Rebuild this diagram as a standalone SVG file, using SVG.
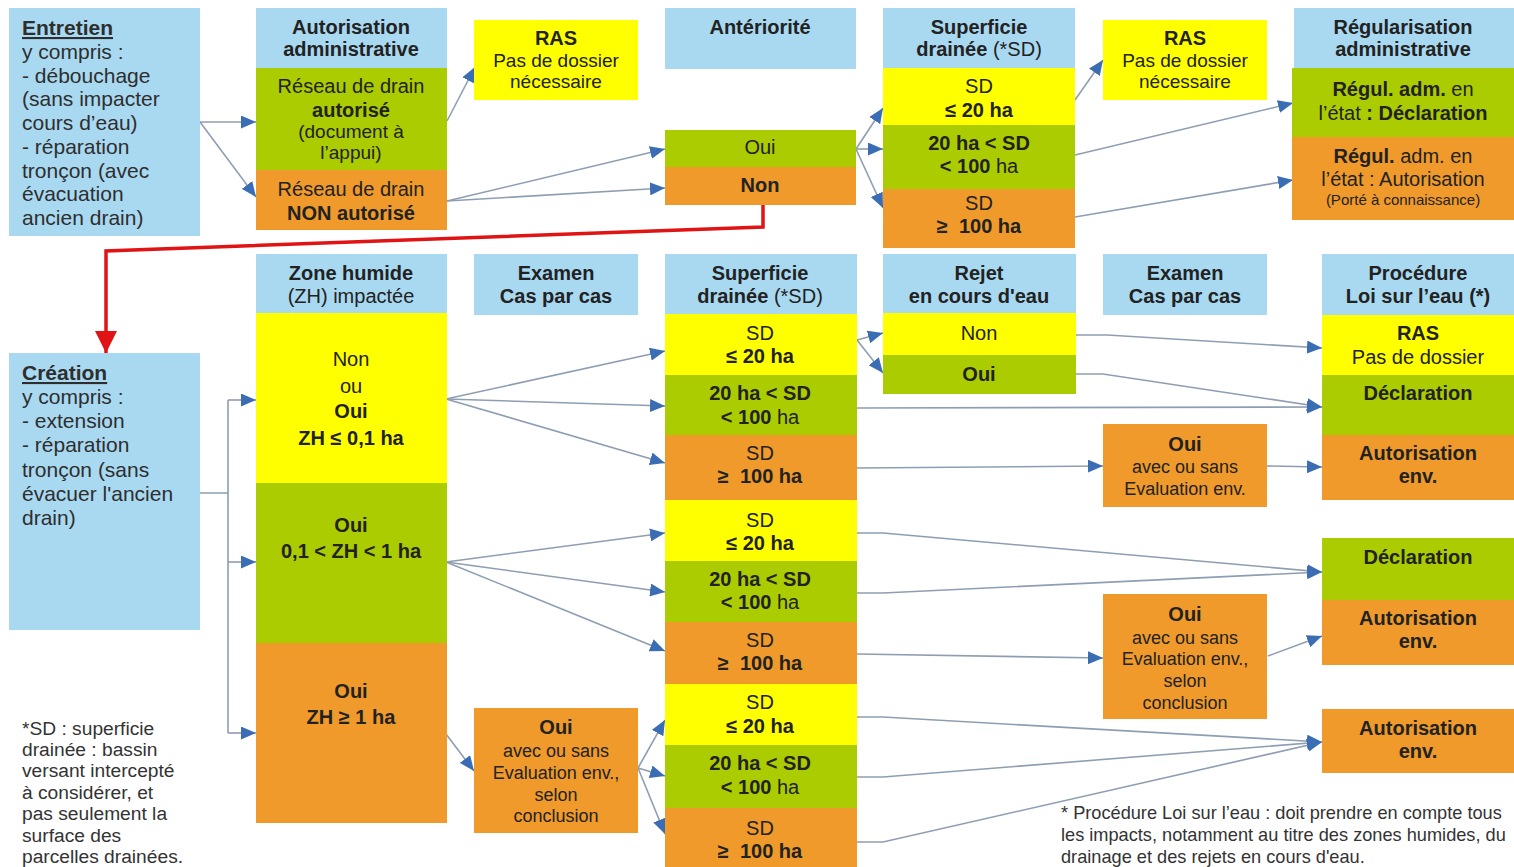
<svg xmlns="http://www.w3.org/2000/svg" width="1514" height="867" viewBox="0 0 1514 867">
<style>
.lb{fill:#a9d9f1}.y{fill:#ffff00}.g{fill:#aacc00}.o{fill:#ef9a2b}
text{font-family:"Liberation Sans",Arial,sans-serif;fill:#222;font-size:20px;text-anchor:middle}
.l{text-anchor:start;fill:#2e2e2e;font-size:21px}
.b{font-weight:bold}
.s19{font-size:19px}.s18{font-size:18px}.s15{font-size:15px}
.fn{text-anchor:start;fill:#333;font-size:19.2px}
.fr{font-size:18.2px}
.c{stroke:#8e9eb2;stroke-width:1.6;fill:none;marker-end:url(#ah)}
.cn{stroke:#8e9eb2;stroke-width:1.6;fill:none}
</style>
<defs>
<marker id="ah" markerUnits="userSpaceOnUse" markerWidth="15" markerHeight="13" refX="15" refY="6.5" orient="auto"><path d="M0,0 L15,6.5 L0,13 z" fill="#3a6db4"/></marker>
<marker id="rh" markerUnits="userSpaceOnUse" markerWidth="24" markerHeight="22" refX="22" refY="11" orient="auto"><path d="M0,0 L22,11 L0,22 z" fill="#e01414"/></marker>
</defs>
<rect width="1514" height="867" fill="#ffffff"/>

<g id="connectors">
<path class="c" d="M200,122 L256,122"/>
<path class="c" d="M200,122 L256,197"/>
<path class="c" d="M447,121 L475,67"/>
<path class="c" d="M447,201 L665,149"/>
<path class="c" d="M447,201 L665,188"/>
<path class="c" d="M856,149 L883,108"/>
<path class="c" d="M856,149 L883,149"/>
<path class="c" d="M856,149 L883,208"/>
<path class="c" d="M1075,100 L1103,60"/>
<path class="c" d="M1075,155 L1293,103"/>
<path class="c" d="M1075,217 L1293,180"/>
<path class="cn" d="M200,493 L228,493 M228,400 L228,733"/>
<path class="c" d="M228,400 L256,400"/>
<path class="c" d="M228,562 L256,562"/>
<path class="c" d="M228,733 L256,733"/>
<path class="c" d="M446,399 L665,351"/>
<path class="c" d="M446,399 L665,406"/>
<path class="c" d="M446,399 L665,463"/>
<path class="c" d="M446,562 L665,533"/>
<path class="c" d="M446,562 L665,592"/>
<path class="c" d="M446,562 L665,651"/>
<path class="c" d="M446,734 L474,771"/>
<path class="c" d="M638,768 L665,720"/>
<path class="c" d="M638,768 L665,776"/>
<path class="c" d="M638,768 L665,834"/>
<path class="c" d="M857,340 L883,333"/>
<path class="c" d="M857,340 L883,373"/>
<path class="c" d="M1076,335 L1107,335 L1322,348"/>
<path class="c" d="M1076,374 L1103,374 L1322,407"/>
<path class="c" d="M857,408 L1322,407"/>
<path class="c" d="M857,468 L1103,466"/>
<path class="c" d="M1267,466 L1322,467"/>
<path class="c" d="M857,533 L883,533 L1322,572"/>
<path class="c" d="M857,593 L883,593 L1322,572"/>
<path class="c" d="M857,654 L1103,658"/>
<path class="c" d="M1268,656 L1322,636"/>
<path class="c" d="M857,717 L883,717 L1322,742"/>
<path class="c" d="M857,777 L883,777 L1322,742"/>
<path class="c" d="M857,842 L883,842 L1322,742"/>
<path d="M763,205 L763,227 L106,251 L106,353" fill="none" stroke="#e01414" stroke-width="3.5" stroke-linejoin="miter" marker-end="url(#rh)"/>
</g>

<g id="entretien">
<rect class="lb" x="9" y="8" width="191" height="228"/>
<text class="l b" x="22" y="35" text-decoration="underline">Entretien</text>
<text class="l" x="22" y="59">y compris :</text>
<text class="l" x="22" y="83">- débouchage</text>
<text class="l" x="22" y="106">(sans impacter</text>
<text class="l" x="22" y="130">cours d’eau)</text>
<text class="l" x="22" y="154">- réparation</text>
<text class="l" x="22" y="178">tronçon (avec</text>
<text class="l" x="22" y="201">évacuation</text>
<text class="l" x="22" y="225">ancien drain)</text>
</g>

<g id="autorisation-admin">
<rect class="lb" x="256" y="8" width="191" height="60"/>
<rect class="g" x="256" y="68" width="191" height="102"/>
<rect class="o" x="256" y="170" width="191" height="60"/>
<text class="b" x="351" y="34">Autorisation</text>
<text class="b" x="351" y="56">administrative</text>
<text x="351" y="93">Réseau de drain</text>
<text class="b" x="351" y="117">autorisé</text>
<text class="s19" x="351" y="138">(document à</text>
<text class="s19" x="351" y="159">l’appui)</text>
<text x="351" y="196">Réseau de drain</text>
<text class="b" x="351" y="220">NON autorisé</text>
</g>

<g id="ras1">
<rect class="y" x="474" y="20" width="164" height="80"/>
<text class="b" x="556" y="45">RAS</text>
<text class="s19" x="556" y="67">Pas de dossier</text>
<text class="s19" x="556" y="88">nécessaire</text>
</g>

<g id="anteriorite">
<rect class="lb" x="665" y="8" width="191" height="61"/>
<text class="b" x="760" y="34">Antériorité</text>
<rect class="g" x="665" y="130" width="191" height="37"/>
<rect class="o" x="665" y="167" width="191" height="38"/>
<text x="760" y="154">Oui</text>
<text class="b" x="760" y="192">Non</text>
</g>

<g id="superficie-top">
<rect class="lb" x="883" y="8" width="192" height="60"/>
<rect class="y" x="883" y="68" width="192" height="57"/>
<rect class="g" x="883" y="125" width="192" height="64"/>
<rect class="o" x="883" y="189" width="192" height="59"/>
<text class="b" x="979" y="34">Superficie</text>
<text x="979" y="56"><tspan class="b">drainée</tspan> (*SD)</text>
<text x="979" y="93">SD</text>
<text class="b" x="979" y="117">≤ 20 ha</text>
<text class="b" x="979" y="150">20 ha &lt; SD</text>
<text x="979" y="173"><tspan class="b">&lt; 100</tspan> ha</text>
<text x="979" y="210">SD</text>
<text class="b" x="979" y="233" xml:space="preserve">≥  100 ha</text>
</g>

<g id="ras2">
<rect class="y" x="1103" y="20" width="164" height="80"/>
<text class="b" x="1185" y="45">RAS</text>
<text class="s19" x="1185" y="67">Pas de dossier</text>
<text class="s19" x="1185" y="88">nécessaire</text>
</g>

<g id="regularisation">
<rect class="lb" x="1294" y="8" width="220" height="60"/>
<rect class="g" x="1292" y="68" width="222" height="69"/>
<rect class="o" x="1292" y="137" width="222" height="83"/>
<text class="b" x="1403" y="34">Régularisation</text>
<text class="b" x="1403" y="56">administrative</text>
<text x="1403" y="96"><tspan class="b">Régul. adm.</tspan> en</text>
<text x="1403" y="120">l’état <tspan class="b">: Déclaration</tspan></text>
<text x="1403" y="163"><tspan class="b">Régul.</tspan> adm. en</text>
<text x="1403" y="186">l’état : Autorisation</text>
<text class="s15" x="1403" y="205">(Porté à connaissance)</text>
</g>

<g id="creation">
<rect class="lb" x="9" y="353" width="191" height="277"/>
<text class="l b" x="22" y="380" text-decoration="underline">Création</text>
<text class="l" x="22" y="404">y compris :</text>
<text class="l" x="22" y="428">- extension</text>
<text class="l" x="22" y="452">- réparation</text>
<text class="l" x="22" y="477">tronçon (sans</text>
<text class="l" x="22" y="501">évacuer l'ancien</text>
<text class="l" x="22" y="525">drain)</text>
</g>

<g id="zone-humide">
<rect class="lb" x="256" y="254" width="191" height="59"/>
<rect class="y" x="256" y="313" width="191" height="170"/>
<rect class="g" x="256" y="483" width="191" height="160"/>
<rect class="o" x="256" y="643" width="191" height="180"/>
<text class="b" x="351" y="280">Zone humide</text>
<text x="351" y="303">(ZH) impactée</text>
<text x="351" y="366">Non</text>
<text x="351" y="393">ou</text>
<text class="b" x="351" y="418">Oui</text>
<text class="b" x="351" y="445">ZH ≤ 0,1 ha</text>
<text class="b" x="351" y="532">Oui</text>
<text class="b" x="351" y="558">0,1 &lt; ZH &lt; 1 ha</text>
<text class="b" x="351" y="698">Oui</text>
<text class="b" x="351" y="724">ZH ≥ 1 ha</text>
</g>

<g id="examen1">
<rect class="lb" x="474" y="254" width="164" height="61"/>
<text class="b" x="556" y="280">Examen</text>
<text class="b" x="556" y="303">Cas par cas</text>
</g>

<g id="oui-examen3">
<rect class="o" x="474" y="708" width="164" height="125"/>
<text class="b" x="556" y="734">Oui</text>
<text class="s18" x="556" y="757">avec ou sans</text>
<text class="s18" x="556" y="779">Evaluation env.,</text>
<text class="s18" x="556" y="801">selon</text>
<text class="s18" x="556" y="822">conclusion</text>
</g>

<g id="superficie-bottom">
<rect class="lb" x="665" y="254" width="192" height="60"/>
<rect class="y" x="665" y="314" width="192" height="61"/>
<rect class="g" x="665" y="375" width="192" height="60"/>
<rect class="o" x="665" y="435" width="192" height="65"/>
<rect class="y" x="665" y="500" width="192" height="61"/>
<rect class="g" x="665" y="561" width="192" height="61"/>
<rect class="o" x="665" y="622" width="192" height="62"/>
<rect class="y" x="665" y="684" width="192" height="61"/>
<rect class="g" x="665" y="745" width="192" height="63"/>
<rect class="o" x="665" y="808" width="192" height="59"/>
<text class="b" x="760" y="280">Superficie</text>
<text x="760" y="303"><tspan class="b">drainée</tspan> (*SD)</text>
<text x="760" y="340">SD</text>
<text class="b" x="760" y="363">≤ 20 ha</text>
<text class="b" x="760" y="400">20 ha &lt; SD</text>
<text x="760" y="424"><tspan class="b">&lt; 100</tspan> ha</text>
<text x="760" y="460">SD</text>
<text class="b" x="760" y="483" xml:space="preserve">≥  100 ha</text>
<text x="760" y="527">SD</text>
<text class="b" x="760" y="550">≤ 20 ha</text>
<text class="b" x="760" y="586">20 ha &lt; SD</text>
<text x="760" y="609"><tspan class="b">&lt; 100</tspan> ha</text>
<text x="760" y="647">SD</text>
<text class="b" x="760" y="670" xml:space="preserve">≥  100 ha</text>
<text x="760" y="709">SD</text>
<text class="b" x="760" y="733">≤ 20 ha</text>
<text class="b" x="760" y="770">20 ha &lt; SD</text>
<text x="760" y="794"><tspan class="b">&lt; 100</tspan> ha</text>
<text x="760" y="835">SD</text>
<text class="b" x="760" y="858" xml:space="preserve">≥  100 ha</text>
</g>

<g id="rejet">
<rect class="lb" x="883" y="254" width="193" height="59"/>
<rect class="y" x="883" y="313" width="193" height="42"/>
<rect class="g" x="883" y="355" width="193" height="39"/>
<text class="b" x="979" y="280">Rejet</text>
<text class="b" x="979" y="303">en cours d'eau</text>
<text x="979" y="340">Non</text>
<text class="b" x="979" y="381">Oui</text>
</g>

<g id="examen2">
<rect class="lb" x="1103" y="254" width="164" height="61"/>
<text class="b" x="1185" y="280">Examen</text>
<text class="b" x="1185" y="303">Cas par cas</text>
</g>

<g id="oui-examen1">
<rect class="o" x="1103" y="424" width="164" height="83"/>
<text class="b" x="1185" y="451">Oui</text>
<text class="s18" x="1185" y="473">avec ou sans</text>
<text class="s18" x="1185" y="495">Evaluation env.</text>
</g>

<g id="oui-examen2">
<rect class="o" x="1103" y="594" width="164" height="125"/>
<text class="b" x="1185" y="621">Oui</text>
<text class="s18" x="1185" y="644">avec ou sans</text>
<text class="s18" x="1185" y="665">Evaluation env.,</text>
<text class="s18" x="1185" y="687">selon</text>
<text class="s18" x="1185" y="709">conclusion</text>
</g>

<g id="procedure">
<rect class="lb" x="1322" y="254" width="192" height="61"/>
<rect class="y" x="1322" y="315" width="192" height="60"/>
<rect class="g" x="1322" y="375" width="192" height="60"/>
<rect class="o" x="1322" y="435" width="192" height="65"/>
<text class="b" x="1418" y="280">Procédure</text>
<text class="b" x="1418" y="303">Loi sur l’eau (*)</text>
<text class="b" x="1418" y="340">RAS</text>
<text x="1418" y="364">Pas de dossier</text>
<text class="b" x="1418" y="400">Déclaration</text>
<text class="b" x="1418" y="460">Autorisation</text>
<text class="b" x="1418" y="483">env.</text>
</g>

<g id="procedure2">
<rect class="g" x="1322" y="538" width="192" height="62"/>
<rect class="o" x="1322" y="600" width="192" height="65"/>
<text class="b" x="1418" y="564">Déclaration</text>
<text class="b" x="1418" y="625">Autorisation</text>
<text class="b" x="1418" y="648">env.</text>
</g>

<g id="procedure3">
<rect class="o" x="1322" y="709" width="192" height="64"/>
<text class="b" x="1418" y="735">Autorisation</text>
<text class="b" x="1418" y="758">env.</text>
</g>

<g id="footnote-sd">
<text class="fn" x="22" y="735">*SD : superficie</text>
<text class="fn" x="22" y="756">drainée : bassin</text>
<text class="fn" x="22" y="777">versant intercepté</text>
<text class="fn" x="22" y="799">à considérer, et</text>
<text class="fn" x="22" y="820">pas seulement la</text>
<text class="fn" x="22" y="842">surface des</text>
<text class="fn" x="22" y="863">parcelles drainées.</text>
</g>

<g id="footnote-procedure">
<text class="fn fr" x="1061" y="819">* Procédure Loi sur l’eau : doit prendre en compte tous</text>
<text class="fn fr" x="1061" y="841">les impacts, notamment au titre des zones humides, du</text>
<text class="fn fr" x="1061" y="863">drainage et des rejets en cours d'eau.</text>
</g>
</svg>
